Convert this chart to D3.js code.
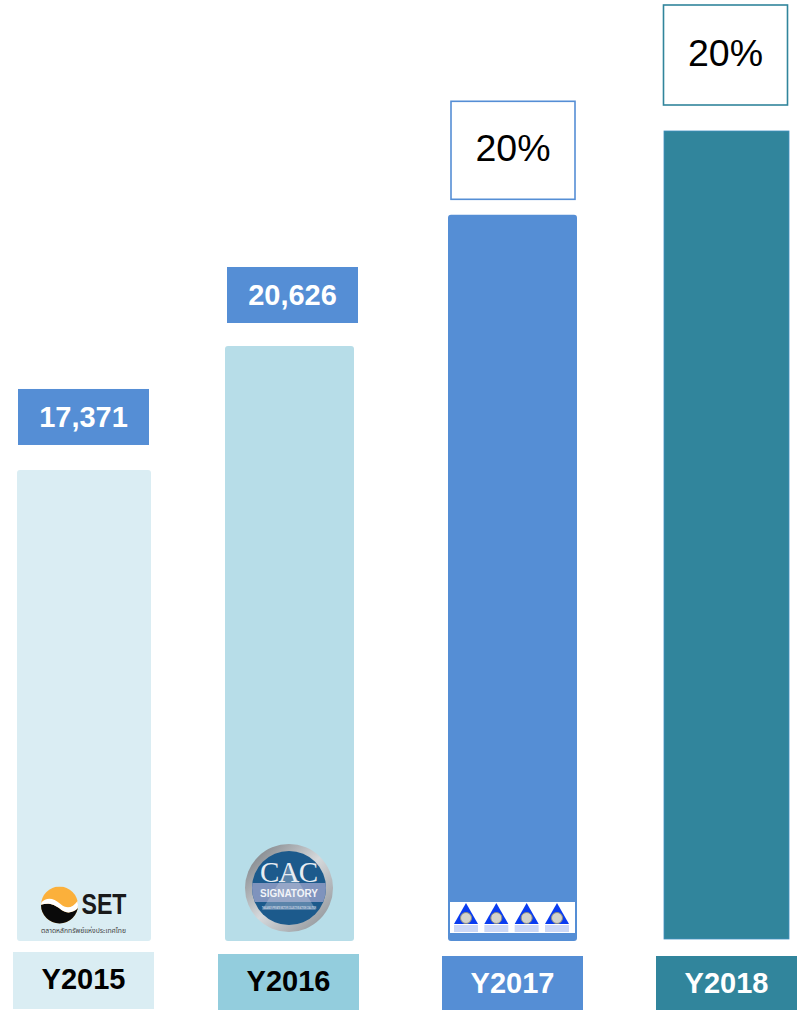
<!DOCTYPE html>
<html>
<head>
<meta charset="utf-8">
<script src="https://cdn.jsdelivr.net/npm/d3@7"></script>
<style>
    html, body { margin: 0; padding: 0; background: #fff; }
    svg { display: block; }
    text { font-family: "Liberation Sans", Arial, sans-serif; }
</style>
</head>
<body>
<svg id="chart" width="798" height="1010"></svg>
<script>
// Values (2017 and 2018 have no printed value)
const years = ['Y2015', 'Y2016', 'Y2017', 'Y2018'];
const values = [17371, 20626, 24070, 26270];
const valueLabels = ['17,371', '20,626', '20%', '20%'];
const barColors = ['#daedf3', '#b7dde8', '#558ed5', '#31859c'];
const yearColors = ['#daedf3', '#93cddd', '#558ed5', '#31859c'];
const yearTextColors = ['#000', '#000', '#fff', '#fff'];

// The columns in the reference are hand placed, so not evenly spaced
const barCentres = [84, 289.5, 512.5, 726.5];
const barWidths = [134, 129, 129, 125];
const labelCentres = [83.5, 292.5, 513, 725.5];
const yearCentres = [83.5, 288.5, 512.5, 726.5];
const yearTops = [952, 954, 956, 956];
const labelGaps = [25, 23, 15.5, 26];
const BAR_BOTTOM = 941;

const svg = d3.select('#chart');

const x = d3.scaleOrdinal().domain(years).range(barCentres);
const barWidth = d3.scaleOrdinal().domain(years).range(barWidths);
const labelX = d3.scaleOrdinal().domain(years).range(labelCentres);
const yearX = d3.scaleOrdinal().domain(years).range(yearCentres);
const yearTop = d3.scaleOrdinal().domain(years).range(yearTops);
const labelGap = d3.scaleOrdinal().domain(years).range(labelGaps);
// axis does not start at zero: bar heights fit a base of about 5,000
const y = d3.scaleLinear().domain([5006, 26270]).range([BAR_BOTTOM, 131]);

const data = years.map((year, i) => ({
    year: year,
    value: values[i],
    label: valueLabels[i],
    barColor: barColors[i],
    yearColor: yearColors[i],
    yearText: yearTextColors[i],
    isPercent: valueLabels[i].endsWith('%')
}));

// Bars
svg.selectAll('.bar')
    .data(data)
    .enter()
    .append('rect')
    .attr('class', 'bar')
    .attr('x', d => x(d.year) - barWidth(d.year) / 2)
    .attr('width', d => barWidth(d.year))
    .attr('y', d => y(d.value))
    .attr('height', d => d.year === 'Y2018' ? BAR_BOTTOM - 2 - y(d.value) : BAR_BOTTOM - y(d.value))
    .attr('rx', d => d.year === 'Y2018' ? 0 : 3)
    .attr('fill', d => d.barColor)
    .attr('stroke', d => d.year === 'Y2018' ? '#3f8fc0' : 'none')
    .attr('stroke-width', 0.8);

// Value boxes above the bars
const labelGroup = svg.selectAll('.value-label')
    .data(data)
    .enter()
    .append('g')
    .attr('class', 'value-label')
    .attr('transform', d => `translate(${labelX(d.year)},${y(d.value) - labelGap(d.year)})`);

labelGroup.each(function(d) {
    const g = d3.select(this);
    if (d.isPercent) {
        const boxHeight = d.year === 'Y2017' ? 98 : 100;
        g.append('rect')
            .attr('x', -62).attr('width', 124)
            .attr('y', -boxHeight).attr('height', boxHeight)
            .attr('fill', '#fff')
            .attr('stroke', d.barColor)
            .attr('stroke-width', 1.6);
        g.append('text')
            .attr('y', -boxHeight / 2 + 11)
            .attr('text-anchor', 'middle')
            .attr('font-size', 37.5)
            .attr('fill', '#000')
            .text(d.label);
    } else {
        g.append('rect')
            .attr('x', -65.5).attr('width', 131)
            .attr('y', -56).attr('height', 56)
            .attr('fill', '#558ed5');
        g.append('text')
            .attr('y', -18)
            .attr('text-anchor', 'middle')
            .attr('font-size', 29)
            .attr('font-weight', 'bold')
            .attr('fill', '#fff')
            .text(d.label);
    }
});

// Year boxes under the bars
const yearGroup = svg.selectAll('.year')
    .data(data)
    .enter()
    .append('g')
    .attr('class', 'year');

yearGroup.append('rect')
    .attr('x', d => yearX(d.year) - 70.5)
    .attr('width', 141)
    .attr('y', d => yearTop(d.year))
    .attr('height', d => 1010 - yearTop(d.year) - (d.year === 'Y2015' ? 1 : 0))
    .attr('fill', d => d.yearColor);

yearGroup.append('text')
    .attr('x', d => yearX(d.year))
    .attr('y', d => yearTop(d.year) + 36.5)
    .attr('text-anchor', 'middle')
    .attr('font-size', 29)
    .attr('font-weight', 'bold')
    .attr('fill', d => d.yearText)
    .text(d => d.year);

drawSetLogo();
drawCacLogo();
drawStars();

function drawSetLogo() {
    const cx = x('Y2015') - 24.5;
    const cy = 905;
    const r = 18.5;
    const g = svg.append('g').attr('class', 'logo-set');
    const clipId = 'set-clip';

    svg.append('defs').append('clipPath').attr('id', clipId)
        .append('circle').attr('cx', cx).attr('cy', cy).attr('r', r);

    const disc = g.append('g').attr('clip-path', `url(#${clipId})`);
    disc.append('rect')
        .attr('x', cx - r).attr('width', 2 * r)
        .attr('y', cy - r).attr('height', 2 * r)
        .attr('fill', '#fbb03b');
    // black lower half, its top edge follows the wave
    disc.append('path')
        .attr('d', `M${cx - r - 1},${cy} C${cx - 12},${cy - 2} ${cx - 7},${cy - 2} ${cx + 2},${cy + 5}
            C${cx + 8},${cy + 9} ${cx + 14},${cy + 8} ${cx + r + 1},${cy + 2}
            L${cx + r + 1},${cy + r + 1} L${cx - r - 1},${cy + r + 1} Z`)
        .attr('fill', '#0a0a0a');
    // white wave band
    disc.append('path')
        .attr('d', `M${cx - r - 1},${cy - 1} C${cx - 14},${cy - 8} ${cx - 7},${cy - 8} ${cx + 1},${cy - 1}
            C${cx + 7},${cy + 4} ${cx + 13},${cy + 4} ${cx + r + 1},${cy - 6}
            L${cx + r + 1},${cy + 2} C${cx + 14},${cy + 8} ${cx + 8},${cy + 9} ${cx + 2},${cy + 5}
            C${cx - 7},${cy - 2} ${cx - 12},${cy - 2} ${cx - r - 1},${cy} Z`)
        .attr('fill', '#fff');

    g.append('text')
        .attr('x', cx + 22).attr('y', cy + 9)
        .attr('font-size', 29)
        .attr('font-weight', 'bold')
        .attr('fill', '#1a1a1a')
        .attr('textLength', 45)
        .attr('lengthAdjust', 'spacingAndGlyphs')
        .text('SET');

    g.append('text')
        .attr('x', cx - 18.5).attr('y', cy + 28)
        .attr('font-size', 6.5)
        .attr('fill', '#444')
        .attr('style', 'font-family: "Noto Sans", "Noto Sans Thai", "Liberation Sans", sans-serif')
        .attr('textLength', 85)
        .attr('lengthAdjust', 'spacingAndGlyphs')
        .text('ตลาดหลักทรัพย์แห่งประเทศไทย');
}

function drawCacLogo() {
    const cx = x('Y2016') - 0.5;
    const cy = 888;
    const defs = svg.append('defs');
    const ring = defs.append('linearGradient')
        .attr('id', 'cac-ring')
        .attr('x1', '0').attr('y1', '0').attr('x2', '1').attr('y2', '1');
    ring.append('stop').attr('offset', '0').attr('stop-color', '#6f7378');
    ring.append('stop').attr('offset', '0.5').attr('stop-color', '#d6d9dc');
    ring.append('stop').attr('offset', '1').attr('stop-color', '#85898e');

    const clip = defs.append('clipPath').attr('id', 'cac-clip');
    clip.append('circle').attr('cx', cx).attr('cy', cy).attr('r', 37);

    const g = svg.append('g').attr('class', 'logo-cac');
    g.append('circle').attr('cx', cx).attr('cy', cy).attr('r', 44).attr('fill', 'url(#cac-ring)');
    g.append('circle').attr('cx', cx).attr('cy', cy).attr('r', 37).attr('fill', '#1c5a8c');

    const inner = g.append('g').attr('clip-path', 'url(#cac-clip)');
    inner.append('rect')
        .attr('x', cx - 40).attr('width', 80)
        .attr('y', cy - 5).attr('height', 19)
        .attr('fill', '#7f93bd');
    inner.append('path')
        .attr('d', `M${cx},${cy - 22} L${cx + 27},${cy + 22} L${cx - 27},${cy + 22} Z`)
        .attr('fill', '#b9c3d6')
        .attr('fill-opacity', 0.4);

    g.append('text')
        .attr('x', cx).attr('y', cy - 6)
        .attr('text-anchor', 'middle')
        .attr('font-size', 29)
        .attr('style', 'font-family: "Liberation Serif", serif')
        .attr('fill', '#e8edf2')
        .attr('textLength', 58)
        .attr('lengthAdjust', 'spacing')
        .text('CAC');
    g.append('text')
        .attr('x', cx).attr('y', cy + 9)
        .attr('text-anchor', 'middle')
        .attr('font-size', 11)
        .attr('font-weight', 'bold')
        .attr('fill', '#f2f4f8')
        .attr('textLength', 58)
        .attr('lengthAdjust', 'spacingAndGlyphs')
        .text('SIGNATORY');
    g.append('text')
        .attr('x', cx).attr('y', cy + 21)
        .attr('text-anchor', 'middle')
        .attr('font-size', 3.2)
        .attr('font-weight', 'bold')
        .attr('fill', '#d5dde8')
        .attr('textLength', 54)
        .attr('lengthAdjust', 'spacingAndGlyphs')
        .text('THAILAND\'S PRIVATE SECTOR COLLECTIVE ACTION COALITION');
}

function drawStars() {
    const cx = x('Y2017');
    svg.append('rect')
        .attr('x', cx - 62.5).attr('width', 125)
        .attr('y', 902).attr('height', 31)
        .attr('fill', '#fff');

    const badge = d3.scalePoint().domain(d3.range(4)).range([cx - 46.5, cx + 44.5]);
    const g = svg.selectAll('.badge')
        .data(d3.range(4))
        .enter()
        .append('g')
        .attr('class', 'badge')
        .attr('transform', d => `translate(${badge(d)},0)`);

    g.append('path')
        .attr('d', 'M0,903 L12,924 L-12,924 Z')
        .attr('fill', '#0a3cf0');
    g.append('circle')
        .attr('cy', 918).attr('r', 5.5)
        .attr('fill', '#d2d2cc')
        .attr('stroke', '#8f8f80');
    g.append('rect')
        .attr('x', -12).attr('width', 24)
        .attr('y', 925).attr('height', 7)
        .attr('fill', '#ccd8f6');
}
</script>
</body>
</html>
